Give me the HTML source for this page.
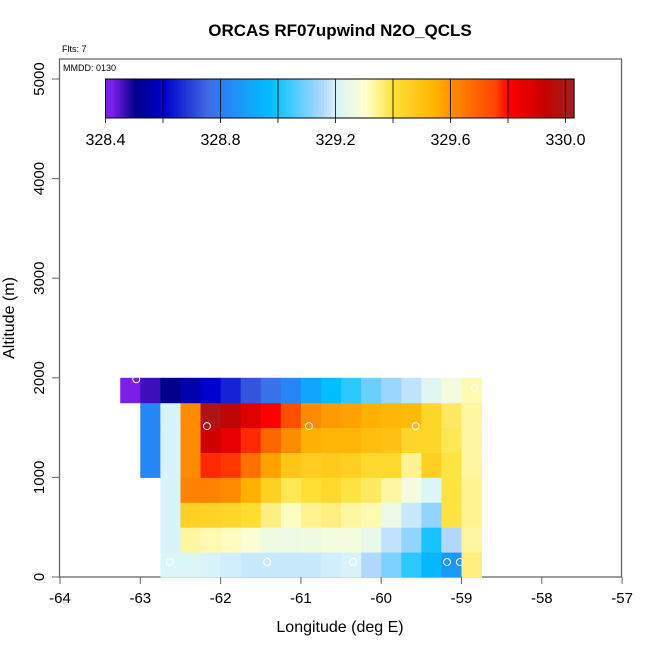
<!DOCTYPE html>
<html><head><meta charset="utf-8"><style>
body{margin:0;background:#fff;}
svg{display:block;font-family:"Liberation Sans",sans-serif;}
</style></head><body>
<svg id="chart" width="650" height="650" xmlns="http://www.w3.org/2000/svg">
<defs><clipPath id="cbclip"><rect x="105.5" y="79" width="468.5" height="39"/></clipPath></defs>
<text x="340" y="36" text-anchor="middle" font-size="17" font-weight="bold">ORCAS RF07upwind N2O_QCLS</text>
<text x="62" y="52" font-size="9">Flts: 7</text>
<rect x="59.5" y="59" width="562" height="518" fill="none" stroke="#666" stroke-width="1.3"/>
<text x="63" y="71" font-size="9">MMDD: 0130</text>
<g id="cells"></g>
<g id="pts"></g>
<g id="cbar"></g>
<g id="xaxis"></g>
<g id="yaxis"></g>
<text x="340" y="632" text-anchor="middle" font-size="16">Longitude (deg E)</text>
<text transform="translate(14,318) rotate(-90)" text-anchor="middle" font-size="16">Altitude (m)</text>
</svg>
<script>
const lonStart = -63.25, lonStep = 0.25;
const altStep = 250;
// rows from bottom (0-250 m) to top (1750-2000 m); null = no data
const row0    = [null,null,329.21,329.21,329.20,329.19,329.18,329.18,329.18,329.18,329.19,329.20,329.15,329.10,329.02,328.95,328.87,329.35];
const row250  = [null,null,329.20,329.33,329.32,329.31,329.29,329.26,329.25,329.26,329.27,329.27,329.24,329.17,329.12,329.00,329.15,329.33];
const row500  = [null,null,329.20,329.45,329.44,329.43,329.41,329.35,329.31,329.34,329.35,329.33,329.32,329.25,329.18,329.12,329.39,329.34];
const row750  = [null,null,329.20,329.62,329.62,329.60,329.55,329.45,329.38,329.40,329.42,329.39,329.37,329.33,329.27,329.21,329.39,329.34];
const row1000 = [null,328.82,329.20,329.60,329.77,329.76,329.66,329.57,329.48,329.46,329.47,329.45,329.42,329.42,329.34,329.45,329.39,329.33];
const row1250 = [null,328.82,329.20,329.60,329.90,329.85,329.77,329.68,329.60,329.55,329.53,329.53,329.51,329.50,329.43,329.43,329.38,329.33];
const row1500 = [null,328.82,329.20,329.60,329.98,329.94,329.87,329.80,329.73,329.60,329.58,329.57,329.55,329.53,329.52,329.43,329.37,329.33];
const row1750 = [328.42,328.46,328.50,328.55,328.60,328.65,328.72,328.77,328.82,328.90,328.97,329.02,329.08,329.13,329.17,329.22,329.27,329.32];
const rows = [row0,row250,row500,row750,row1000,row1250,row1500,row1750];
const ptLon = [-63.05,-62.17,-60.90,-59.57,-58.84,-62.63,-61.42,-60.35,-59.18,-59.02];
const ptAlt = [1985,1515,1515,1515,1895,150,150,150,150,150];
const xTicks = [-64,-63,-62,-61,-60,-59,-58,-57];
const yTicks = [0,1000,2000,3000,4000,5000];
const cbTicks = [328.4,328.6,328.8,329.0,329.2,329.4,329.6,329.8,330.0];
const cbLabels = ["328.4","328.8","329.2","329.6","330.0"];

const stops = [[328.35,"#8b22f0"],[328.42,"#7a1ee8"],[328.5,"#00008b"],[328.6,"#0000cd"],[328.75,"#4169e1"],[328.8,"#2a80f5"],[328.97,"#00bfff"],[329.02,"#2ac8ff"],[329.15,"#b0d8ff"],[329.2,"#d8f4fa"],[329.3,"#ffffd0"],[329.4,"#ffe033"],[329.55,"#ffb000"],[329.6,"#ff8c00"],[329.75,"#ff4500"],[329.8,"#ff0000"],[329.92,"#c80000"],[330.0,"#a51a1a"],[330.05,"#a52020"]];
function hex(c){return [1,3,5].map(i=>parseInt(c.substr(i,2),16));}
function color(v){
  if(v<=stops[0][0])return stops[0][1];
  for(let i=1;i<stops.length;i++){if(v<=stops[i][0]){const a=stops[i-1],b=stops[i];const t=(v-a[0])/(b[0]-a[0]);const ca=hex(a[1]),cb=hex(b[1]);return "rgb("+ca.map((x,k)=>Math.round(x+(cb[k]-x)*t)).join(",")+")";}}
  return stops[stops.length-1][1];
}
const xS = lon => 60 + (lon+64)*80.3;
const yS = alt => 577 - alt*0.0996;
const cS = v => 105.5 + (v-328.4)*287.5;
const NS="http://www.w3.org/2000/svg";
function mk(tag,attrs,parent){const e=document.createElementNS(NS,tag);for(const k in attrs)e.setAttribute(k,attrs[k]);parent.appendChild(e);return e;}

const gc=document.getElementById('cells');
rows.forEach((row,r)=>row.forEach((v,c)=>{
  if(v===null)return;
  const x0=xS(lonStart+c*lonStep), x1=xS(lonStart+(c+1)*lonStep);
  const y1=yS(r*altStep), y0=yS((r+1)*altStep);
  const e=mk('rect',{x:x0,y:y0,width:x1-x0+0.5,height:y1-y0+0.5,fill:color(v)},gc);
  
  
}));
const gp=document.getElementById('pts');
ptLon.forEach((lon,i)=>{
  const e=mk('circle',{cx:xS(lon),cy:yS(ptAlt[i]),r:3.5,fill:'none',stroke:'#fff','stroke-width':1},gp);
  
  
});
// colorbar
const gb=document.getElementById('cbar');
const gsw=mk('g',{'clip-path':'url(#cbclip)'},gb);
for(let v=328.4;v<330.04;v+=0.01){
  const e=mk('rect',{x:cS(v),y:79,width:3.5,height:39,fill:color(v)},gsw);
  
  
}
mk('rect',{x:105.5,y:79,width:cS(330.03)-105.5,height:39,fill:'none',stroke:'#000','stroke-width':1},gb);
cbTicks.forEach(v=>{
  const e=mk('line',{x1:cS(v),x2:cS(v),y1:79,y2:123,stroke:'#000','stroke-width':0.8},gb);
  
  
});
cbLabels.forEach(s=>{
  const t=mk('text',{x:cS(parseFloat(s)),y:145,'text-anchor':'middle','font-size':16},gb);
  t.textContent=s;
  
  
});
// axes
const gx=document.getElementById('xaxis');
xTicks.forEach(v=>{
  const l=mk('line',{x1:xS(v),x2:xS(v),y1:577,y2:584,stroke:'#666'},gx);
  
  
  const t=mk('text',{x:xS(v),y:603,'text-anchor':'middle','font-size':15},gx);
  t.textContent=v;
  
  
});
const gy=document.getElementById('yaxis');
yTicks.forEach(v=>{
  const l=mk('line',{x1:52,x2:59.5,y1:yS(v),y2:yS(v),stroke:'#666'},gy);
  
  
  const t=mk('text',{transform:'translate(44,'+yS(v)+') rotate(-90)','text-anchor':'middle','font-size':15},gy);
  t.textContent=v;
  
  
});
</script>
</body></html>
